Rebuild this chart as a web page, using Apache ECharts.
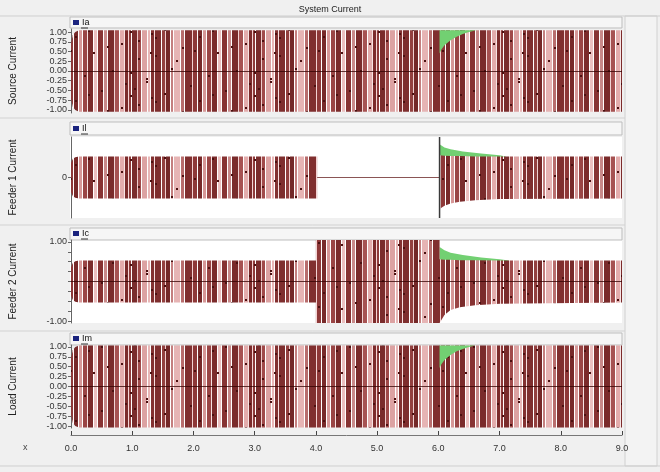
<!DOCTYPE html>
<html><head><meta charset="utf-8">
<script src="https://cdn.jsdelivr.net/npm/echarts@6/dist/echarts.min.js"></script>
<style>html,body{margin:0;padding:0;background:#f0f0f0}#c{width:660px;height:472px}</style>
</head><body><div id="c"></div><script>
// ---------- data ----------
const TITLE = 'System Current';
const PANEL_NAMES = ['Source Current', 'Feeder 1 Current', 'Feeder 2 Current', 'Load Current'];
const LEGEND_NAMES = ['Ia', 'Il', 'Ic', 'Im'];
const X_TICKS = [0, 1, 2, 3, 4, 5, 6, 7, 8, 9];
const Y_TICKS_FULL = [-1, -0.75, -0.5, -0.25, 0, 0.25, 0.5, 0.75, 1];
const Y_LABELS_P3 = [-1, 1];
const Y_LABELS_P2 = [0];

// Panel 1 (Source current) envelope of the dense waveform
const T_IA = [0, 0.03, 0.07, 0.13, 9.0];
const HI_IA = [0.72, 0.92, 1.0, 1.05, 1.05];
const LO_IA = [-0.72, -0.92, -1.0, -1.05, -1.05];
// green transient patch at 6 s
const T_IA_G = [6.02, 6.05, 6.1, 6.2, 6.3, 6.4, 6.5, 6.62];
const LO_IA_G = [0.45, 0.55, 0.66, 0.79, 0.88, 0.95, 1.0, 1.05];
const HI_IA_G = [1.05, 1.05, 1.05, 1.05, 1.05, 1.05, 1.05, 1.05];

// Panel 2 (Feeder 1) envelope
const T_IL_A = [0, 0.03, 0.07, 0.13, 4.02];
const HI_IL_A = [0.36, 0.46, 0.5, 0.52, 0.52];
const LO_IL_A = [-0.36, -0.46, -0.5, -0.52, -0.52];
const T_IL_B = [6.02, 6.1, 6.2, 6.35, 6.6, 7.0, 9.0];
const HI_IL_B = [0.55, 0.54, 0.53, 0.53, 0.52, 0.52, 0.52];
const LO_IL_B = [-0.78, -0.7, -0.64, -0.6, -0.56, -0.53, -0.52];
const T_IL_G = [6.02, 6.1, 6.2, 6.4, 6.7, 7.0, 7.1];
const HI_IL_G = [0.82, 0.74, 0.7, 0.64, 0.59, 0.55, 0.52];
const LO_IL_G = [0.5, 0.5, 0.5, 0.5, 0.5, 0.5, 0.5];
const IL_FLAT = [[4.02, 0], [6.02, 0]];
const IL_SPIKE = [[6.02, -1], [6.02, 1]];

// Panel 3 (Feeder 2) envelope
const T_IC = [0, 0.03, 0.07, 0.13, 4.0, 4.0, 6.02, 6.02, 6.1, 6.2, 6.35, 6.6, 7.0, 9.0];
const HI_IC = [0.36, 0.47, 0.51, 0.53, 0.53, 1.05, 1.05, 0.56, 0.55, 0.55, 0.54, 0.54, 0.53, 0.53];
const LO_IC = [-0.36, -0.47, -0.51, -0.53, -0.53, -1.05, -1.05, -1.05, -0.85, -0.72, -0.65, -0.6, -0.56, -0.53];
const T_IC_G = [6.02, 6.1, 6.2, 6.4, 6.7, 7.0, 7.15];
const HI_IC_G = [0.87, 0.79, 0.73, 0.67, 0.61, 0.56, 0.53];
const LO_IC_G = [0.5, 0.5, 0.5, 0.5, 0.5, 0.5, 0.5];

// Panel 4 (Load current) envelope
const T_IM = [0, 0.03, 0.07, 0.13, 9.0];
const HI_IM = [0.72, 0.92, 1.0, 1.04, 1.04];
const LO_IM = [-0.72, -0.92, -1.0, -1.04, -1.04];
const T_IM_G = [6.02, 6.05, 6.1, 6.2, 6.3, 6.4, 6.5, 6.6];
const LO_IM_G = [0.47, 0.56, 0.67, 0.8, 0.89, 0.95, 1.0, 1.04];
const HI_IM_G = [1.04, 1.04, 1.04, 1.04, 1.04, 1.04, 1.04, 1.04];

// ---------- style: striped texture for the dense (aliased) waveform ----------
const STRIPES = [
  [1,'#f7e4e4'],[3,'#7c2b2b'],[1,'#f4d6d6'],[2,'#8f3a3a'],[1,'#ffffff'],[5,'#7a2c2c'],[1,'#eecccc'],
  [3,'#a04a4a'],[1,'#ffffff'],[5,'#dca2a2'],[1,'#ffffff'],[2,'#e8b6b6'],[1,'#ffffff'],[3,'#833131'],
  [1,'#f7e0e0'],[6,'#7e2e2e'],[1,'#ffffff'],[3,'#93403f'],[1,'#f0d0d0'],[4,'#742828'],[1,'#ffffff'],
  [2,'#c47f7f'],[1,'#ffffff'],[6,'#e6b4b4'],[1,'#ffffff'],[3,'#b86d6d'],[1,'#ffffff'],[7,'#802f2f'],
  [1,'#f3d2d2'],[4,'#8e3838'],[1,'#ffffff'],[4,'#782a2a'],[1,'#ffffff'],[3,'#d69797'],[1,'#ffffff'],
  [4,'#9a4545'],[1,'#f7e2e2'],[5,'#7b2b2b'],[1,'#ffffff'],[3,'#ebbfbf'],[1,'#ffffff'],[5,'#873333'],
  [1,'#ffffff'],[3,'#c98a8a'],[1,'#ffffff'],[6,'#7a2b2b'],[1,'#f1d4d4'],[4,'#a65252'],[1,'#ffffff'],[4,'#e3acac']
];
const DOTS = [[6,8],[14,40],[22,17],[31,55],[40,29],[47,4],[58,47],[66,21],[75,36],[84,11],[93,52],[101,26],
  [112,6],[121,43],[130,31],[138,58],[146,14],[155,37],[10,24],[27,33],[52,60],[70,50],[88,30],[107,46],[125,19],[150,52]];
function makeTexture() {
  const w = STRIPES.reduce((s, d) => s + d[0], 0), h = 64;
  const cv = document.createElement('canvas'); cv.width = w; cv.height = h;
  const ctx = cv.getContext('2d'); let x = 0;
  STRIPES.forEach(d => { ctx.fillStyle = d[1]; ctx.fillRect(x, 0, d[0], h); x += d[0]; });
  ctx.fillStyle = '#4a0f0f';
  DOTS.forEach(p => { ctx.fillRect(p[0] % w, p[1], 2, 2); });
  return cv;
}
const TEX = { image: makeTexture(), repeat: 'repeat' };
const GREEN = '#72d072';

function band(name, gi, t, lo, hi, fill, z) {
  const pts = t.map((v, i) => [v, lo[i], hi[i]]);
  return {
    type: 'custom', name: name, xAxisIndex: gi, yAxisIndex: gi, z: z || 2, silent: true,
    data: pts, encode: { x: 0, y: [1, 2] }, clip: true,
    renderItem: function (params, api) {
      if (params.dataIndex !== 0) return null;
      const poly = [];
      for (let i = 0; i < t.length; i++) poly.push(api.coord([t[i], hi[i]]));
      for (let i = t.length - 1; i >= 0; i--) poly.push(api.coord([t[i], lo[i]]));
      return { type: 'polygon', shape: { points: poly }, style: { fill: fill, stroke: null } };
    }
  };
}
function zeroLine() {
  return { silent: true, symbol: 'none', label: { show: false },
    lineStyle: { color: 'rgba(50,0,0,0.75)', width: 1, type: 'solid' }, data: [{ yAxis: 0 }] };
}

const GRIDS = [
  { top: 29, height: 84 }, { top: 137, height: 81 }, { top: 240, height: 83 }, { top: 345, height: 83 }
];
const YR = [[-1.08, 1.08], [-1, 1], [-1.05, 1.05], [-1.05, 1.05]];
const fmt2 = v => v.toFixed(2);

const chart = echarts.init(document.getElementById('c'), null, { renderer: 'canvas' });
const yAxes = GRIDS.map((g, i) => ({
  type: 'value', gridIndex: i, min: YR[i][0], max: YR[i][1],
  name: PANEL_NAMES[i], nameLocation: 'middle', nameRotate: 90, nameGap: 53,
  nameTextStyle: { fontSize: 10, color: '#222', fontFamily: 'Liberation Sans' },
  axisLine: { show: true, onZero: false, lineStyle: { color: '#666', width: 1 } },
  axisTick: { show: true, length: 3, lineStyle: { color: '#666' },
    customValues: i === 1 ? Y_LABELS_P2 : Y_TICKS_FULL },
  axisLabel: { fontSize: 9, color: '#333', margin: 4, fontFamily: 'Liberation Sans',
    customValues: i === 1 ? Y_LABELS_P2 : (i === 2 ? Y_LABELS_P3 : Y_TICKS_FULL),
    formatter: i === 1 ? (v => String(v)) : fmt2 },
  splitLine: { show: false }
}));
const xAxes = GRIDS.map((g, i) => (i < 3 ? {
  type: 'value', gridIndex: i, min: 0, max: 9, show: false
} : {
  type: 'value', gridIndex: i, min: 0, max: 9, interval: 1, offset: 7, position: 'bottom',
  axisLine: { show: true, onZero: false, lineStyle: { color: '#777' } },
  axisTick: { show: true, inside: true, length: 4, lineStyle: { color: '#444' } },
  axisLabel: { fontSize: 9, color: '#333', margin: 9, fontFamily: 'Liberation Sans',
    customValues: X_TICKS, formatter: v => v.toFixed(1) },
  splitLine: { show: false }
}));

const s1 = band(LEGEND_NAMES[0], 0, T_IA, LO_IA, HI_IA, TEX, 2);
s1.markLine = zeroLine();
const s4 = band(LEGEND_NAMES[3], 3, T_IM, LO_IM, HI_IM, TEX, 2);
s4.markLine = zeroLine();
const s3 = band(LEGEND_NAMES[2], 2, T_IC, LO_IC, HI_IC, TEX, 2);
s3.markLine = zeroLine();

const series = [
  s1, band('g1', 0, T_IA_G, LO_IA_G, HI_IA_G, GREEN, 3),
  band(LEGEND_NAMES[1], 1, T_IL_A, LO_IL_A, HI_IL_A, TEX, 2),
  band('g2', 1, T_IL_G, LO_IL_G, HI_IL_G, GREEN, 2),
  band('il_b', 1, T_IL_B, LO_IL_B, HI_IL_B, TEX, 3),
  { type: 'line', name: 'il_flat', xAxisIndex: 1, yAxisIndex: 1, data: IL_FLAT, symbol: 'none', silent: true,
    lineStyle: { color: '#8a5555', width: 1 }, z: 4 },
  { type: 'line', name: 'il_spike', xAxisIndex: 1, yAxisIndex: 1, data: IL_SPIKE, symbol: 'none', silent: true,
    lineStyle: { color: '#3a3a3a', width: 1.5 }, z: 5 },
  band('g3', 2, T_IC_G, LO_IC_G, HI_IC_G, GREEN, 1), s3,
  s4, band('g4', 3, T_IM_G, LO_IM_G, HI_IM_G, GREEN, 3)
];

const legendTops = [18, 124, 229, 334];
const legends = legendTops.map((tp, i) => ({
  data: [LEGEND_NAMES[i]], left: 73, top: tp, icon: 'rect', itemWidth: 6, itemHeight: 5, itemGap: 2, padding: 0,
  itemStyle: { color: '#1a237e' },
  textStyle: { fontSize: 9, color: '#111', padding: [0, 0, 0, -2], fontFamily: 'Liberation Sans' },
  selectedMode: false
}));

const headers = [[17, 11], [122, 13], [228, 12], [333, 12]];
const graphic = [
  { type: 'rect', shape: { x: 625, y: 16, width: 32, height: 450 }, style: { fill: '#f3f3f3', stroke: '#d0d0d0' }, z: -1 },
  { type: 'line', shape: { x1: 0, y1: 16, x2: 660, y2: 16 }, style: { stroke: '#cfcfcf' } },
  { type: 'line', shape: { x1: 0, y1: 118, x2: 625, y2: 118 }, style: { stroke: '#d2d2d2' } },
  { type: 'line', shape: { x1: 0, y1: 225, x2: 625, y2: 225 }, style: { stroke: '#d2d2d2' } },
  { type: 'line', shape: { x1: 0, y1: 331, x2: 625, y2: 331 }, style: { stroke: '#d2d2d2' } },
  { type: 'line', shape: { x1: 0, y1: 466, x2: 660, y2: 466 }, style: { stroke: '#cfcfcf' } },
  { type: 'text', left: 'center', top: 5, style: { text: TITLE, fontSize: 9, fill: '#222', fontFamily: 'Liberation Sans' } },
  { type: 'text', left: 23, top: 443, style: { text: 'x', fontSize: 9, fill: '#444', fontFamily: 'Liberation Sans' } },
  { type: 'rect', shape: { x: 70, y: 137, width: 552, height: 81 }, style: { fill: '#ffffff' }, z: -1 },
  { type: 'rect', shape: { x: 70, y: 240, width: 552, height: 83 }, style: { fill: '#ffffff' }, z: -1 }
].concat(headers.map(h => ({
  type: 'rect', shape: { x: 70, y: h[0], width: 552, height: h[1] },
  style: { fill: '#f6f6f6', stroke: '#bdbdbd', lineWidth: 1 }, z: -1
}))).concat(legendTops.map(tp => ({
  type: 'line', shape: { x1: 81, y1: tp + 10, x2: 88, y2: tp + 10 }, style: { stroke: '#333' }, z: 10
})));

chart.setOption({
  animation: false,
  backgroundColor: '#f0f0f0',
  grid: GRIDS.map(g => ({ left: 70, right: 38, top: g.top, height: g.height, containLabel: false })),
  xAxis: xAxes, yAxis: yAxes, legend: legends, series: series, graphic: graphic
});
</script></body></html>
